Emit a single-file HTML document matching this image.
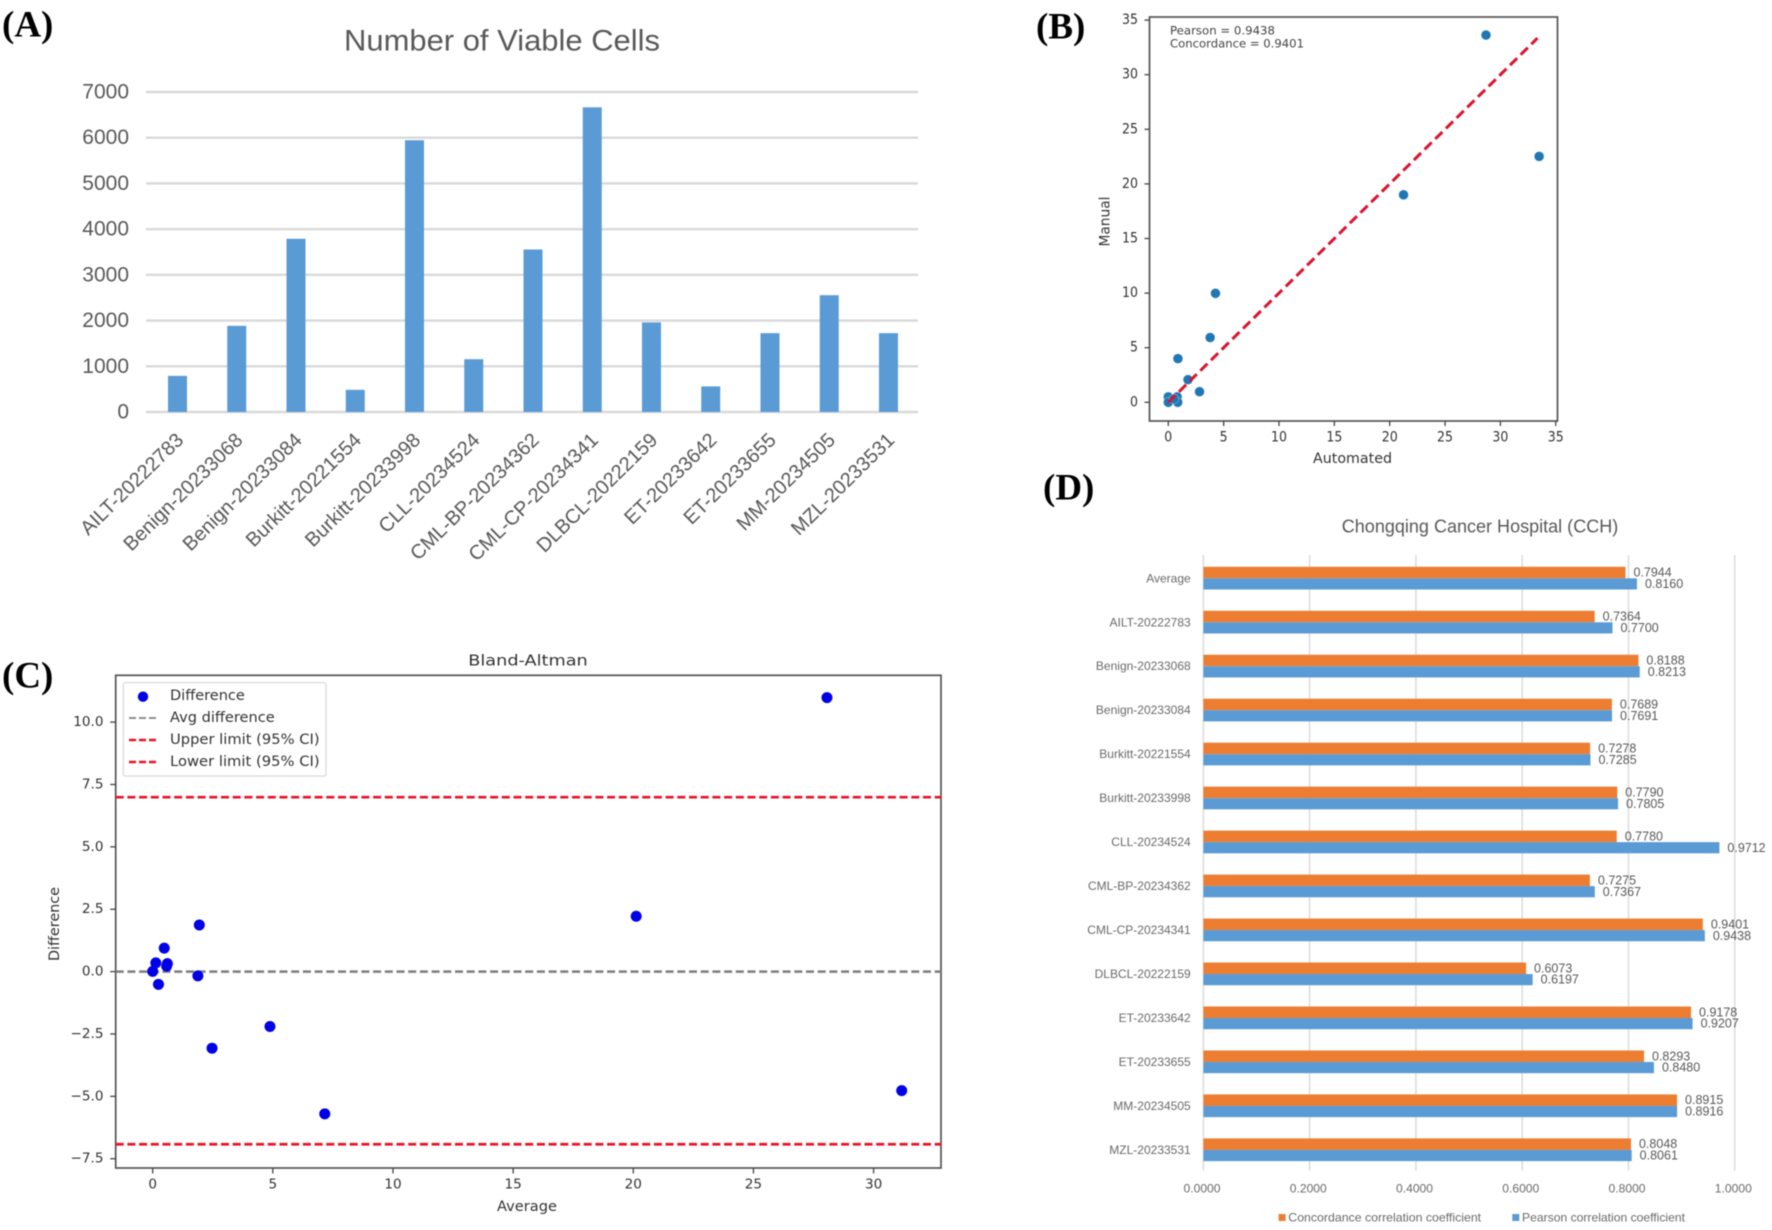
<!DOCTYPE html>
<html lang="en">
<head>
<meta charset="utf-8">
<title>Viable cells and correlation analysis</title>
<style>
html,body{margin:0;padding:0;background:#fff;}
svg{display:block;filter:blur(0.55px);}
text{font-family:"Liberation Sans",sans-serif;}
.mpl text,text.mpl{font-family:"DejaVu Sans","Liberation Sans",sans-serif;}
.panel-letter{font-family:"Liberation Serif",serif;font-weight:bold;font-size:37px;fill:#000;dominant-baseline:central;}
</style>
</head>
<body>
<svg id="figure" xmlns="http://www.w3.org/2000/svg" width="1772" height="1230" viewBox="0 0 1772 1230">
  <rect width="1772" height="1230" fill="#ffffff"/>
  <text class="panel-letter" x="2" y="25">(A)</text>
  <text class="panel-letter" x="1036" y="27">(B)</text>
  <text class="panel-letter" x="2" y="676">(C)</text>
  <text class="panel-letter" x="1043" y="488">(D)</text>

  <g id="chart-a">
    <text x="502" y="41" font-size="30" fill="#595959" text-anchor="middle" dominant-baseline="central" textLength="316" lengthAdjust="spacingAndGlyphs">Number of Viable Cells</text>
  </g>

  <g id="chart-b" class="mpl">
    <rect x="1149.5" y="17" width="408" height="404" fill="none" stroke="#555" stroke-width="1.7"/>
    <text x="1170" y="30.5" font-size="11.5" fill="#444" dominant-baseline="central" textLength="105" lengthAdjust="spacingAndGlyphs">Pearson = 0.9438</text>
    <text x="1170" y="43.5" font-size="11.5" fill="#444" dominant-baseline="central" textLength="134" lengthAdjust="spacingAndGlyphs">Concordance = 0.9401</text>
    <text x="1352.5" y="459" font-size="14" fill="#333" text-anchor="middle" dominant-baseline="central" textLength="79" lengthAdjust="spacingAndGlyphs">Automated</text>
    <text transform="translate(1105.5 221.5) rotate(-90)" font-size="14" fill="#333" text-anchor="middle" dominant-baseline="central" textLength="50" lengthAdjust="spacingAndGlyphs">Manual</text>
  </g>

  <g id="chart-c" class="mpl">
    <rect x="115.7" y="675.3" width="825.3" height="492.7" fill="none" stroke="#555" stroke-width="1.7"/>
    <text x="528" y="660.5" font-size="15" fill="#333" text-anchor="middle" dominant-baseline="central" textLength="119.5" lengthAdjust="spacingAndGlyphs">Bland-Altman</text>
    <text x="527" y="1207" font-size="14" fill="#333" text-anchor="middle" dominant-baseline="central" textLength="60" lengthAdjust="spacingAndGlyphs">Average</text>
    <text transform="translate(55 924) rotate(-90)" font-size="14" fill="#333" text-anchor="middle" dominant-baseline="central" textLength="74" lengthAdjust="spacingAndGlyphs">Difference</text>
  </g>

  <g id="chart-d">
    <text x="1480" y="526" font-size="18.5" fill="#595959" text-anchor="middle" dominant-baseline="central" textLength="276.5" lengthAdjust="spacingAndGlyphs">Chongqing Cancer Hospital (CCH)</text>
    <rect x="1278.6" y="1214" width="7" height="7" fill="#ed7d31"/>
    <text x="1288.3" y="1217.5" font-size="12" fill="#6a6a6a" dominant-baseline="central" textLength="192.8" lengthAdjust="spacingAndGlyphs">Concordance correlation coefficient</text>
    <rect x="1512.3" y="1214" width="7" height="7" fill="#5b9bd5"/>
    <text x="1522" y="1217.5" font-size="12" fill="#6a6a6a" dominant-baseline="central" textLength="163" lengthAdjust="spacingAndGlyphs">Pearson correlation coefficient</text>
  </g>
</svg>
<script>
/* ---------- Chart A data ---------- */
const viableCategories = ["AILT-20222783","Benign-20233068","Benign-20233084","Burkitt-20221554","Burkitt-20233998","CLL-20234524","CML-BP-20234362","CML-CP-20234341","DLBCL-20222159","ET-20233642","ET-20233655","MM-20234505","MZL-20233531"];
const viableCounts = [790,1885,3790,485,5945,1155,3555,6665,1960,560,1725,2555,1725];
const viableTicks = [0,1000,2000,3000,4000,5000,6000,7000];

/* ---------- Chart B data ---------- */
const scatterAutomated = [28.7,33.5,21.25,4.26,3.78,0.87,1.78,2.82,0,0,0.8,0.85,0.5];
const scatterManual = [33.63,22.52,19,9.98,5.93,4,2.07,0.97,0.5,0,0.5,0,0.3];
const identityRange = [0,33.35];
const scatterTicks = [0,5,10,15,20,25,30,35];

/* ---------- Chart C data ---------- */
const baAverage = [28.06,20.12,31.17,7.16,4.88,2.47,1.94,1.88,0.48,0.61,0.58,0.13,0,0.24];
const baDifference = [10.98,2.22,-4.77,-5.7,-2.2,-3.07,1.87,-0.17,0.94,0.32,0.22,0.35,0.01,-0.51];
const baMeanLine = [0];
const baLimitLines = [6.99,-6.92];
const baXTicks = [0,5,10,15,20,25,30];
const baYTicks = [-7.5,-5,-2.5,0,2.5,5,7.5,10];
const baLegendLabels = ["Difference","Avg difference","Upper limit (95% CI)","Lower limit (95% CI)"];

/* ---------- Chart D data ---------- */
const hospitalCategories = ["Average","AILT-20222783","Benign-20233068","Benign-20233084","Burkitt-20221554","Burkitt-20233998","CLL-20234524","CML-BP-20234362","CML-CP-20234341","DLBCL-20222159","ET-20233642","ET-20233655","MM-20234505","MZL-20233531"];
const concordanceValues = [0.7944,0.7364,0.8188,0.7689,0.7278,0.7790,0.7780,0.7275,0.9401,0.6073,0.9178,0.8293,0.8915,0.8048];
const pearsonValues = [0.8160,0.7700,0.8213,0.7691,0.7285,0.7805,0.9712,0.7367,0.9438,0.6197,0.9207,0.8480,0.8916,0.8061];
const hospitalTicks = [0,0.2,0.4,0.6,0.8,1.0];

const NS = "http://www.w3.org/2000/svg";
function mk(parent, tag, attrs, content) {
  const el = document.createElementNS(NS, tag);
  for (const k in attrs) el.setAttribute(k, attrs[k]);
  if (content !== undefined) el.textContent = content;
  parent.appendChild(el);
  return el;
}

/* ---------- Chart A ---------- */
(function () {
  const g = document.getElementById("chart-a");
  const yA = v => 412 - v * (412 - 92) / 7000;
  const xA = i => 177.5 + i * 59.25;
  viableTicks.forEach(t => {
    const line = mk(g, "line", {x1:146, x2:918, y1:yA(t), y2:yA(t), stroke:"#d9d9d9", "stroke-width":2.4});
    
    
    const label = mk(g, "text", {x:129, y:yA(t), "font-size":21, fill:"#595959", "text-anchor":"end", "dominant-baseline":"central"}, String(t));
    
    
  });
  viableCounts.forEach((v, i) => {
    const bar = mk(g, "rect", {x:xA(i) - 9.5, y:yA(v), width:19, height:yA(0) - yA(v), fill:"#5b9bd5"});
    
    
  });
  viableCategories.forEach((c, i) => {
    const label = mk(g, "text", {transform:"translate(" + (xA(i) + 3) + " 437) rotate(-44.5)", "font-size":20, fill:"#595959", "text-anchor":"end", "dominant-baseline":"central"}, c);
    
    
  });
})();

/* ---------- Chart B ---------- */
(function () {
  const g = document.getElementById("chart-b");
  const xB = v => 1168.3 + v * 11.07;
  const yB = v => 402.3 - v * 10.92;
  scatterTicks.forEach(t => {
    const xt = mk(g, "line", {x1:xB(t), x2:xB(t), y1:421, y2:426, stroke:"#444", "stroke-width":1.3});
    
    
    const xl = mk(g, "text", {x:xB(t), y:437.7, "font-size":14.5, fill:"#333", "text-anchor":"middle", "dominant-baseline":"central", textLength:String(t).length * 8, lengthAdjust:"spacingAndGlyphs"}, String(t));
    
    
    const yt = mk(g, "line", {x1:1144.5, x2:1149.5, y1:yB(t), y2:yB(t), stroke:"#444", "stroke-width":1.3});
    
    
    const yl = mk(g, "text", {x:1138, y:yB(t), "font-size":14.5, fill:"#333", "text-anchor":"end", "dominant-baseline":"central", textLength:String(t).length * 8, lengthAdjust:"spacingAndGlyphs"}, String(t));
    
    
  });
  scatterAutomated.forEach((a, i) => {
    const dot = mk(g, "circle", {cx:xB(a), cy:yB(scatterManual[i]), r:4.9, fill:"#1f77b4", stroke:"#ffffff", "stroke-width":0.3});
    
    
  });
  const fit = mk(g, "line", {x1:xB(identityRange[0]), y1:yB(identityRange[0]), x2:xB(identityRange[1]), y2:yB(identityRange[1]), stroke:"#d9142e", "stroke-width":3, "stroke-dasharray":"10 5"});
  
  
})();

/* ---------- Chart C ---------- */
(function () {
  const g = document.getElementById("chart-c");
  const xC = v => 152.7 + v * 24.03;
  const yC = v => 971.6 - v * 24.95;
  baXTicks.forEach(t => {
    const tick = mk(g, "line", {x1:xC(t), x2:xC(t), y1:1168, y2:1173.5, stroke:"#444", "stroke-width":1.3});
    
    
    const label = mk(g, "text", {x:xC(t), y:1184.5, "font-size":13.6, fill:"#333", "text-anchor":"middle", "dominant-baseline":"central"}, String(t));
    
    
  });
  baYTicks.forEach(t => {
    const tick = mk(g, "line", {x1:110.2, x2:115.7, y1:yC(t), y2:yC(t), stroke:"#444", "stroke-width":1.3});
    
    
    const txt = (t < 0 ? "\u2212" : "") + Math.abs(t).toFixed(1);
    const label = mk(g, "text", {x:103.5, y:yC(t), "font-size":13.6, fill:"#333", "text-anchor":"end", "dominant-baseline":"central"}, txt);
    
    
  });
  baLimitLines.forEach(v => {
    const limit = mk(g, "line", {x1:115.7, x2:941, y1:yC(v), y2:yC(v), stroke:"#ea1226", "stroke-width":2.7, "stroke-dasharray":"8 3.7"});
    
    
  });
  baMeanLine.forEach(v => {
    const mean = mk(g, "line", {x1:115.7, x2:941, y1:yC(v), y2:yC(v), stroke:"#7d7d7d", "stroke-width":2.5, "stroke-dasharray":"8 3.7"});
    
    
  });
  baAverage.forEach((a, i) => {
    const dot = mk(g, "circle", {cx:xC(a), cy:yC(baDifference[i]), r:5.5, fill:"#0000e6"});
    
    
  });
  const legend = mk(g, "g", {});
  
  
  const box = mk(legend, "rect", {x:123.3, y:682.7, width:202.7, height:93.3, rx:2, fill:"#fff", stroke:"#d8d8d8", "stroke-width":1.2});
  
  
  const legendColors = ["#0000e6","#808080","#ea1226","#ea1226"];
  baLegendLabels.forEach((name, i) => {
    const ly = 696 + i * 22;
    if (i === 0) {
      const m = mk(legend, "circle", {cx:143, cy:ly + 0.7, r:5.2, fill:legendColors[i]});
      
      
    } else {
      const l = mk(legend, "line", {x1:129, x2:158, y1:ly, y2:ly, stroke:legendColors[i], "stroke-width":i === 1 ? 1.8 : 2.4, "stroke-dasharray":"7 3"});
      
      
    }
    const t = mk(legend, "text", {x:170, y:ly, "font-size":14, fill:"#333", "dominant-baseline":"central", textLength:name.length * 7.48, lengthAdjust:"spacingAndGlyphs"}, name);
    
    
  });
})();

/* ---------- Chart D ---------- */
(function () {
  const g = document.getElementById("chart-d");
  const xD = v => 1203.4 + v * 531.3;
  const yD = i => 578.3 + i * 43.97;
  hospitalTicks.forEach(t => {
    const line = mk(g, "line", {x1:xD(t), x2:xD(t), y1:555, y2:1170.7, stroke:"#d9d9d9", "stroke-width":1.4});
    
    
    const label = mk(g, "text", {x:xD(t) - 1.4, y:1188.3, "font-size":12, fill:"#6a6a6a", "text-anchor":"middle", "dominant-baseline":"central", textLength:37, lengthAdjust:"spacingAndGlyphs"}, t.toFixed(4));
    
    
  });
  hospitalCategories.forEach((c, i) => {
    const label = mk(g, "text", {x:1190.7, y:yD(i), "font-size":12, fill:"#6a6a6a", "text-anchor":"end", "dominant-baseline":"central"}, c);
    
    
  });
  concordanceValues.forEach((v, i) => {
    const bar = mk(g, "rect", {x:xD(0), y:yD(i) - 11.5, width:xD(v) - xD(0), height:11.5, fill:"#ed7d31"});
    
    
    const label = mk(g, "text", {x:xD(v) + 8, y:yD(i) - 5.7, "font-size":12.5, fill:"#595959", "dominant-baseline":"central"}, v.toFixed(4));
    
    
  });
  pearsonValues.forEach((v, i) => {
    const bar = mk(g, "rect", {x:xD(0), y:yD(i), width:xD(v) - xD(0), height:11.2, fill:"#5b9bd5"});
    
    
    const label = mk(g, "text", {x:xD(v) + 8, y:yD(i) + 5.7, "font-size":12.5, fill:"#595959", "dominant-baseline":"central"}, v.toFixed(4));
    
    
  });
})();
</script>
</body>
</html>
